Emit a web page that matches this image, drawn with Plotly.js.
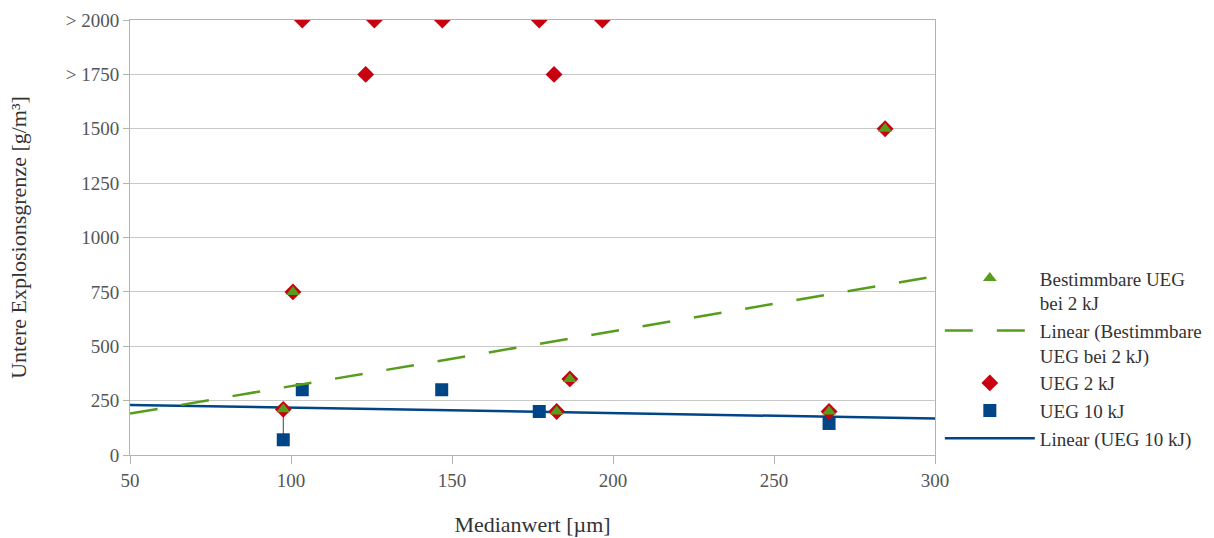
<!DOCTYPE html>
<html>
<head>
<meta charset="utf-8">
<script src="https://cdn.plot.ly/plotly-3.0.1.min.js"></script>
<style>html,body{margin:0;padding:0;background:#fff}#chart{width:1214px;height:538px}</style>
</head>
<body>
<div id="chart"></div>
<script>
// Bestimmbare UEG bei 2 kJ (triangles)
const triX = [100.6, 97.6, 186.6, 182.5, 267.1, 284.5];
const triY = [750, 210, 350, 200, 200, 1500];
// UEG 2 kJ (diamonds)
const diaX = [103.5, 125.9, 147.0, 177.1, 196.7, 123.2, 181.7, 100.6, 97.6, 186.6, 182.5, 267.1, 284.5];
const diaY = [2000, 2000, 2000, 2000, 2000, 1750, 1750, 750, 210, 350, 200, 200, 1500];
// UEG 10 kJ (squares)
const sqX = [103.5, 97.6, 146.8, 177.1, 267.1];
const sqY = [300, 70, 300, 200, 145];
const sqErrPlus = [0, 140, 0, 0, 0];
// axis
const yTickVals = [0, 250, 500, 750, 1000, 1250, 1500, 1750, 2000];
const yTickText = ['0', '250', '500', '750', '1000', '1250', '1500', '> 1750', '> 2000'];
const xRange = [50, 300];

function linfit(xs, ys) {
  const n = xs.length;
  const mx = xs.reduce((a, b) => a + b, 0) / n;
  const my = ys.reduce((a, b) => a + b, 0) / n;
  let sxy = 0, sxx = 0;
  for (let i = 0; i < n; i++) { sxy += (xs[i] - mx) * (ys[i] - my); sxx += (xs[i] - mx) ** 2; }
  const m = sxy / sxx, b = my - m * mx;
  return xRange.map(x => m * x + b);
}

const GREEN = '#579d1c', RED = '#c8000f', BLUE = '#004586';
const font = "'Liberation Serif', 'DejaVu Serif', serif";

const traces = [
  { x: sqX, y: sqY, type: 'scatter', mode: 'markers', name: 'UEG 10 kJ', legendrank: 4,
    marker: { symbol: 'square', size: 13, color: BLUE },
    error_y: { type: 'data', symmetric: false, array: sqErrPlus, arrayminus: [0,0,0,0,0], width: 0, thickness: 1, color: '#444' } },
  { x: xRange, y: linfit(sqX, sqY), type: 'scatter', mode: 'lines', name: 'Linear (UEG 10 kJ)', legendrank: 5,
    line: { color: BLUE, width: 2.5 } },
  { x: xRange, y: linfit(triX, triY), type: 'scatter', mode: 'lines', name: 'Linear (Bestimmbare<br>UEG bei 2 kJ)', legendrank: 2,
    line: { color: GREEN, width: 2.5, dash: '28px,24px' } },
  { x: diaX, y: diaY, type: 'scatter', mode: 'markers', name: 'UEG 2 kJ', legendrank: 3,
    marker: { symbol: 'diamond', size: 13, color: RED } },
  { x: triX, y: triY, type: 'scatter', mode: 'markers', name: 'Bestimmbare UEG<br>bei 2 kJ', legendrank: 1,
    marker: { symbol: 'triangle-up', size: 12, color: GREEN } }
];

const layout = {
  width: 1214, height: 538,
  margin: { l: 130, r: 279, t: 20, b: 83, autoexpand: false },
  paper_bgcolor: '#fff', plot_bgcolor: '#fff',
  font: { family: font, size: 19, color: '#333' },
  showlegend: true,
  legend: { x: 1.006, xanchor: 'left', y: 0.45, yanchor: 'top', valign: 'top',
    font: { family: font, size: 19, color: '#333' }, bgcolor: 'rgba(0,0,0,0)', itemwidth: 90, tracegroupgap: 0 },
  xaxis: {
    range: xRange, tickvals: [50, 100, 150, 200, 250, 300], showgrid: false, zeroline: false,
    showline: true, linecolor: '#b3b3b3', linewidth: 1, mirror: true,
    ticks: 'outside', ticklen: 8, tickcolor: '#b3b3b3',
    tickfont: { family: font, size: 19, color: '#555' },
    title: { text: 'Medianwert [µm]', font: { family: font, size: 22, color: '#333' }, standoff: 26 }
  },
  yaxis: {
    range: [0, 2000], tickvals: yTickVals, ticktext: yTickText, showgrid: true, gridcolor: '#c8c8c8', zeroline: false,
    showline: true, linecolor: '#b3b3b3', linewidth: 1, mirror: true,
    ticks: 'outside', ticklen: 6, tickcolor: '#b3b3b3',
    tickfont: { family: font, size: 19, color: '#555' },
    title: { text: 'Untere Explosionsgrenze [g/m³]', font: { family: font, size: 22, color: '#333' }, standoff: 33 }
  }
};

Plotly.newPlot('chart', traces, layout, { displayModeBar: false, staticPlot: true });
</script>
</body>
</html>
